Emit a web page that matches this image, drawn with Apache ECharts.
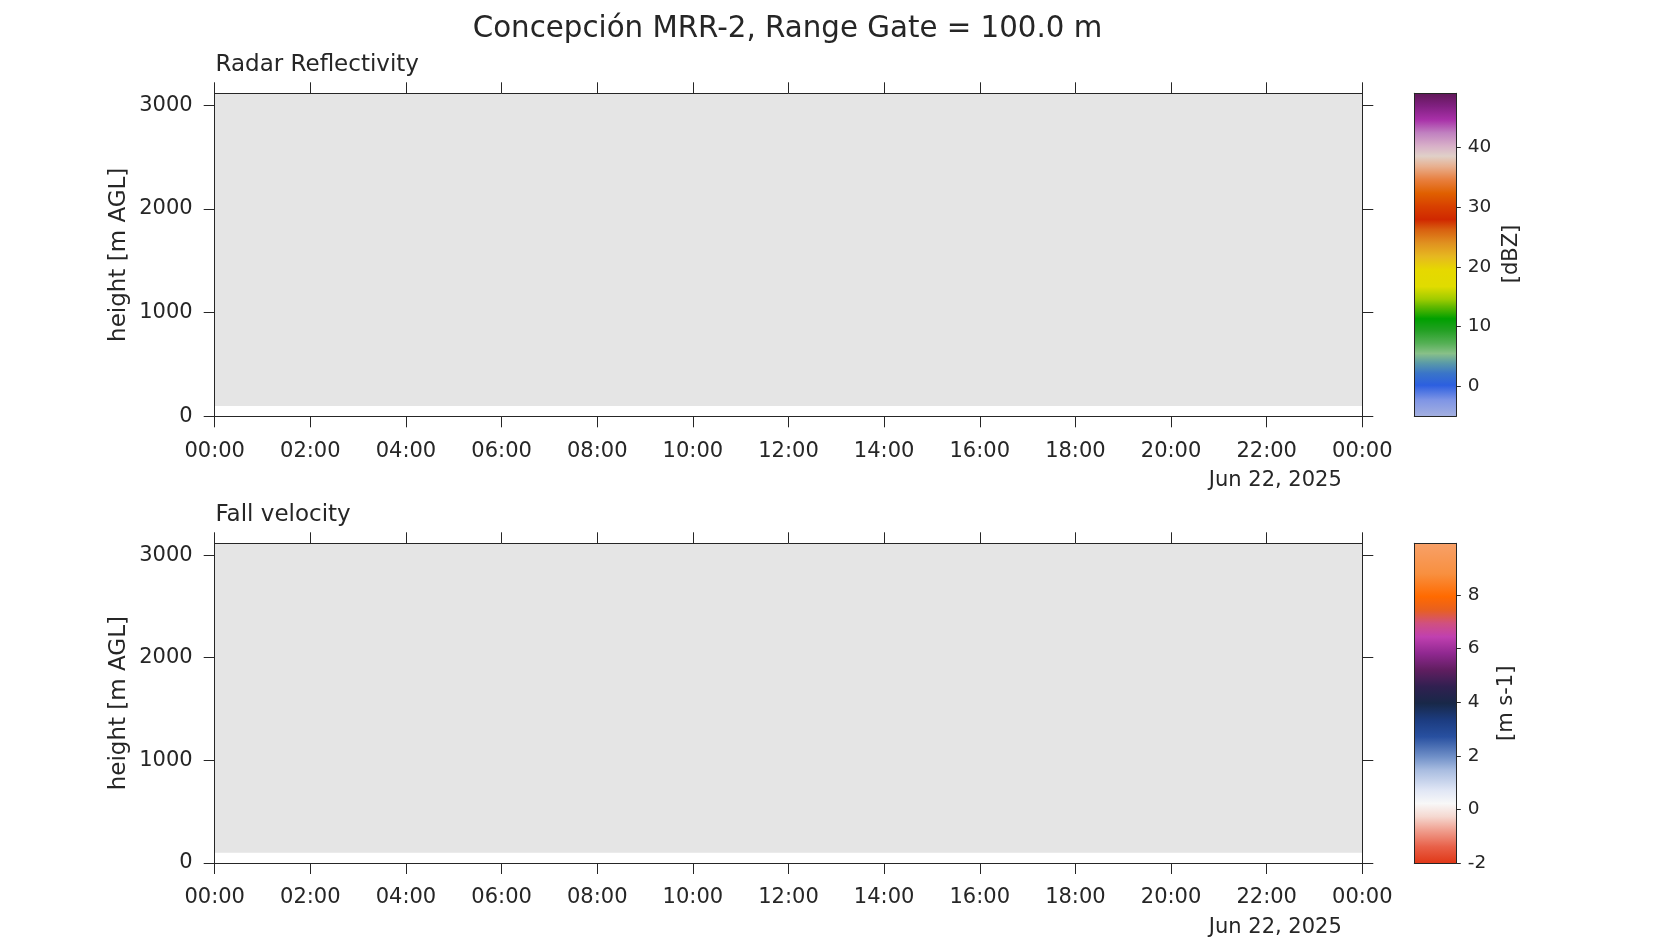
<!DOCTYPE html>
<html>
<head>
<meta charset="utf-8">
<script src="https://cdn.jsdelivr.net/npm/echarts@6/dist/echarts.min.js"></script>
<style>
  html, body { margin: 0; padding: 0; background: #ffffff; }
  #chart { width: 1654px; height: 945px; }
</style>
</head>
<body>
<div id="chart"></div>
<script>
// ---------------- data ----------------
const mainTitle = 'Concepción MRR-2, Range Gate = 100.0 m';
const panelTitles = ['Radar Reflectivity', 'Fall velocity'];
const yAxisTitle = 'height [m AGL]';
const colorbarTitles = ['[dBZ]', '[m s-1]'];
const dateLabel = 'Jun 22, 2025';

// time axis (hours since 00:00)
const timeStart = 0;
const timeEnd = 24;
const timeTicks = [0, 2, 4, 6, 8, 10, 12, 14, 16, 18, 20, 22, 24];
const timeTickLabels = ['00:00', '02:00', '04:00', '06:00', '08:00', '10:00', '12:00',
                        '14:00', '16:00', '18:00', '20:00', '22:00', '00:00'];

// height axis
const heightMin = 0;
const heightMax = 3115;
const heightTicks = [0, 1000, 2000, 3000];
const heightTickLabels = ['0', '1000', '2000', '3000'];
// range covered by radar gates (no valid data: drawn as missing / gray)
const gateBottom = 100;
const gateTop = 3115;

// reflectivity colour scale
const zLimits = [-5, 49];
const zTicks = [0, 10, 20, 30, 40];
const zStopValues = [-5, -2.3, 0.2, 2.2, 3.9, 5.5, 7.2, 9.4, 11.3, 13.3, 14.6, 16.7, 19.5, 21.7,
                     24, 26.2, 27.9, 30.1, 32.3, 34.6, 36.8, 38.5, 40.2, 42.4, 44.6, 46.9, 49];
const zStopColors = ['#a4b0e0', '#7f95e5', '#2c5fe0', '#3a75c8', '#5a9aa8', '#88c088', '#55b055',
                     '#22a022', '#00a000', '#60b800', '#a0cc00', '#e0dc00', '#e6d800', '#e6b820',
                     '#e09020', '#d86010', '#d02800', '#d84000', '#e06000', '#e88040', '#e8b090',
                     '#e0d0c8', '#d8b0c8', '#c080c0', '#a830a8', '#802080', '#601858'];

// fall velocity colour scale
const vLimits = [-2, 9.93];
const vTicks = [-2, 0, 2, 4, 6, 8];
const vStopValues = [-2, -1.4, -0.77, -0.27, 0.22, 0.72, 1.47, 1.96, 2.71, 3.33, 3.96, 4.58,
                     5.2, 5.82, 6.44, 6.94, 7.44, 7.94, 8.8, 9.93];
const vStopColors = ['#e03818', '#e86048', '#f0a090', '#f5d8d0', '#f8f8f8', '#e0e6f5', '#a8bce0',
                     '#7090c8', '#2850a0', '#1c3c80', '#182848', '#302050', '#601e60', '#902890',
                     '#c040b0', '#d05080', '#e86020', '#ff6a00', '#f89040', '#f8a068'];

// ---------------- styling / layout ----------------
const FONT = '"DejaVu Sans", "Noto Sans", sans-serif';
const INK = '#262626';
const MISSING = '#e5e5e5';

const panelLeft = 214.7, panelWidth = 1147.6;
const panelTops = [93.3, 543.3];
const panelHeights = [323, 319.7];
const cbLeft = 1414.3, cbWidth = 42;

const chart = echarts.init(document.getElementById('chart'), null, { renderer: 'canvas' });

const grids = [];
const xAxes = [];
const yAxes = [];
const series = [];

function lineStyle() { return { show: true, onZero: false, lineStyle: { color: INK, width: 1 } }; }

for (let p = 0; p < 2; p++) {
  grids.push({ left: panelLeft, top: panelTops[p], width: panelWidth, height: panelHeights[p] });
}
for (let p = 0; p < 2; p++) {
  grids.push({ left: cbLeft, top: panelTops[p], width: cbWidth, height: panelHeights[p] });
}

for (let p = 0; p < 2; p++) {
  const g = p;
  xAxes.push({
    gridIndex: g, type: 'value', position: 'bottom', min: timeStart, max: timeEnd, interval: 2,
    z: 10, axisLine: lineStyle(),
    axisTick: { show: true, inside: false, length: 11, lineStyle: { color: INK, width: 1 } },
    axisLabel: {
      show: true, margin: 24.5, color: INK, fontSize: 21, fontFamily: FONT,
      formatter: function (v) { const i = timeTicks.indexOf(v); return i >= 0 ? timeTickLabels[i] : ''; }
    },
    splitLine: { show: false }
  });
  xAxes.push({
    gridIndex: g, type: 'value', position: 'top', min: timeStart, max: timeEnd, interval: 2,
    z: 10, axisLine: lineStyle(),
    axisTick: { show: true, inside: false, length: 11, lineStyle: { color: INK, width: 1 } },
    axisLabel: { show: false }, splitLine: { show: false }
  });
  yAxes.push({
    gridIndex: g, type: 'value', position: 'left', min: heightMin, max: heightMax,
    z: 10, axisLine: lineStyle(),
    axisTick: { show: true, inside: false, length: 11, customValues: heightTicks,
                lineStyle: { color: INK, width: 1 } },
    axisLabel: { show: true, margin: 22, color: INK, fontSize: 21, fontFamily: FONT,
                 customValues: heightTicks,
                 formatter: function (v) { const i = heightTicks.indexOf(v); return i >= 0 ? heightTickLabels[i] : ''; } },
    splitLine: { show: false }
  });
  yAxes.push({
    gridIndex: g, type: 'value', position: 'right', min: heightMin, max: heightMax,
    z: 10, axisLine: lineStyle(),
    axisTick: { show: true, inside: false, length: 11, customValues: heightTicks,
                lineStyle: { color: INK, width: 1 } },
    axisLabel: { show: false }, splitLine: { show: false }
  });
}

const cbLimits = [zLimits, vLimits];
const cbTicks = [zTicks, vTicks];
const cbStopValues = [zStopValues, vStopValues];
const cbStopColors = [zStopColors, vStopColors];

for (let p = 0; p < 2; p++) {
  const g = 2 + p;
  xAxes.push({ gridIndex: g, type: 'value', position: 'bottom', min: 0, max: 1, z: 10,
               axisLine: lineStyle(), axisTick: { show: false }, axisLabel: { show: false },
               splitLine: { show: false } });
  xAxes.push({ gridIndex: g, type: 'value', position: 'top', min: 0, max: 1, z: 10,
               axisLine: lineStyle(), axisTick: { show: false }, axisLabel: { show: false },
               splitLine: { show: false } });
  yAxes.push({ gridIndex: g, type: 'value', position: 'left', min: cbLimits[p][0], max: cbLimits[p][1],
               z: 10, axisLine: lineStyle(), axisTick: { show: false }, axisLabel: { show: false },
               splitLine: { show: false } });
  yAxes.push({
    gridIndex: g, type: 'value', position: 'right', min: cbLimits[p][0], max: cbLimits[p][1],
    z: 10, axisLine: lineStyle(),
    axisTick: { show: true, inside: false, length: 4.5, customValues: cbTicks[p],
                lineStyle: { color: INK, width: 1 } },
    axisLabel: { show: true, margin: 11.4, color: INK, fontSize: 18.5, fontFamily: FONT,
                 customValues: cbTicks[p] },
    splitLine: { show: false }
  });
}

for (let p = 0; p < 2; p++) {
  series.push({
    type: 'custom',
    xAxisIndex: 2 * p, yAxisIndex: 2 * p,
    clip: true, silent: true,
    data: [[timeStart, gateBottom, timeEnd, gateTop]],
    encode: { x: [0, 2], y: [1, 3] },
    renderItem: function (params, api) {
      const a = api.coord([api.value(0), api.value(3)]);
      const b = api.coord([api.value(2), api.value(1)]);
      return { type: 'rect', shape: { x: a[0], y: a[1], width: b[0] - a[0], height: b[1] - a[1] },
               style: { fill: MISSING } };
    }
  });
}

for (let p = 0; p < 2; p++) {
  const lim = cbLimits[p];
  const vals = cbStopValues[p];
  const cols = cbStopColors[p];
  const stops = [];
  for (let i = vals.length - 1; i >= 0; i--) {
    stops.push({ offset: (lim[1] - vals[i]) / (lim[1] - lim[0]), color: cols[i] });
  }
  series.push({
    type: 'custom',
    xAxisIndex: 4 + 2 * p, yAxisIndex: 4 + 2 * p,
    silent: true,
    data: [[0, lim[0], 1, lim[1]]],
    encode: { x: [0, 2], y: [1, 3] },
    renderItem: function (params, api) {
      const a = api.coord([api.value(0), api.value(3)]);
      const b = api.coord([api.value(2), api.value(1)]);
      return { type: 'rect', shape: { x: a[0], y: a[1], width: b[0] - a[0], height: b[1] - a[1] },
               style: { fill: new echarts.graphic.LinearGradient(0, 0, 0, 1, stops) } };
    }
  });
}

function txt(text, x, y, size, align, rotation) {
  return {
    type: 'text', x: x, y: y, rotation: rotation || 0, z: 100,
    style: { text: text, fill: INK, font: size + 'px ' + FONT, align: align || 'center',
             verticalAlign: 'middle' }
  };
}

const graphics = [
  txt(mainTitle, 787.5, 29.5, 29.3, 'center'),
  txt(panelTitles[0], 215.5, 65, 23, 'left'),
  txt(panelTitles[1], 215.5, 515, 23, 'left'),
  txt(yAxisTitle, 119.5, panelTops[0] + panelHeights[0] / 2, 23, 'center', Math.PI / 2),
  txt(yAxisTitle, 119.5, panelTops[1] + panelHeights[1] / 2, 23, 'center', Math.PI / 2),
  txt(dateLabel, 1275.3, 480.5, 21, 'center'),
  txt(dateLabel, 1275.3, 927.5, 21, 'center'),
  txt(colorbarTitles[0], 1512, 254, 21, 'center', Math.PI / 2),
  txt(colorbarTitles[1], 1506.5, 703.3, 21, 'center', Math.PI / 2)
];

chart.setOption({
  backgroundColor: '#ffffff',
  animation: false,
  grid: grids,
  xAxis: xAxes,
  yAxis: yAxes,
  series: series,
  graphic: graphics
});
</script>
</body>
</html>
